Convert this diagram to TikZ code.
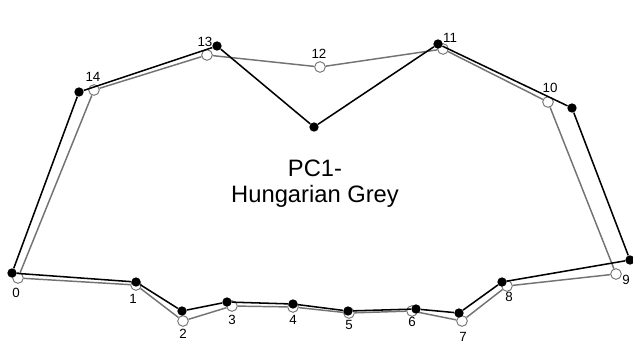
\documentclass[tikz,border=0pt]{standalone}
\usepackage{fontspec}
\setmainfont{Liberation Sans}
\usepackage{tikz}

\tikzset{
  dot/.style={circle, fill=black, inner sep=0pt, minimum size=7pt},
  ring/.style={circle, draw=black!55, line width=0.7pt, inner sep=0pt, minimum size=8pt},
  num/.style={font=\fontsize{10}{11}\selectfont, inner sep=0pt},
  blackline/.style={line width=1.15pt, black},
  greyline/.style={line width=1.1pt, black!55}
}

\begin{document}
\begin{tikzpicture}[x=0.75pt, y=-0.75pt]
    \useasboundingbox (0,0) rectangle (633,344);
    % grey configuration
    \node[ring] (g0) at (18, 278) {};
    \node[ring] (g1) at (136, 285) {};
    \node[ring] (g2) at (183, 321) {};
    \node[ring] (g3) at (232, 306) {};
    \node[ring] (g4) at (293, 307) {};
    \node[ring] (g5) at (349, 313) {};
    \node[ring] (g6) at (412, 311) {};
    \node[ring] (g7) at (462, 321) {};
    \node[ring] (g8) at (507, 286) {};
    \node[ring] (g9) at (616, 274) {};
    \node[ring] (g10) at (548, 102) {};
    \node[ring] (g11) at (443, 49) {};
    \node[ring] (g12) at (320, 67) {};
    \node[ring] (g13) at (207, 55) {};
    \node[ring] (g14) at (94, 90) {};
    \draw [greyline] (g0) -- (g1) -- (g2) -- (g3) -- (g4) -- (g5) -- (g6) -- (g7)
      -- (g8) -- (g9) -- (g10) -- (g11) -- (g12) -- (g13) -- (g14) -- (g0);
    % black configuration
    \node[dot] (b0) at (12, 273) {};
    \node[dot] (b1) at (136, 282) {};
    \node[dot] (b2) at (182, 311) {};
    \node[dot] (b3) at (227, 302) {};
    \node[dot] (b4) at (293, 304) {};
    \node[dot] (b5) at (348, 311) {};
    \node[dot] (b6) at (416, 309) {};
    \node[dot] (b7) at (459, 313) {};
    \node[dot] (b8) at (502, 282) {};
    \node[dot] (b9) at (630, 260) {};
    \node[dot] (b10) at (572, 108) {};
    \node[dot] (b11) at (438, 44) {};
    \node[dot] (b12) at (314, 127) {};
    \node[dot] (b13) at (217, 46) {};
    \node[dot] (b14) at (79, 92) {};
    \draw [blackline] (b0) -- (b1) -- (b2) -- (b3) -- (b4) -- (b5) -- (b6) -- (b7)
      -- (b8) -- (b9) -- (b10) -- (b11) -- (b12) -- (b13) -- (b14) -- (b0);
    % landmark numbers
    \node[num] (n0) at (16, 293) {0};
    \node[num] (n1) at (133, 299) {1};
    \node[num] (n2) at (183, 334) {2};
    \node[num] (n3) at (232, 320) {3};
    \node[num] (n4) at (293, 320) {4};
    \node[num] (n5) at (349, 325) {5};
    \node[num] (n6) at (412, 322) {6};
    \node[num] (n7) at (463, 337) {7};
    \node[num] (n8) at (509, 297) {8};
    \node[num] (n9) at (626, 280) {9};
    \node[num] (n10) at (550, 88) {10};
    \node[num] (n11) at (450, 38) {11};
    \node[num] (n12) at (319, 54) {12};
    \node[num] (n13) at (205, 42) {13};
    \node[num] (n14) at (93, 77) {14};
    \node[align=center, font=\fontsize{17.8}{19.5}\selectfont] (title) at (315, 184)
      {PC1-\\Hungarian Grey};
\end{tikzpicture}
\end{document}
